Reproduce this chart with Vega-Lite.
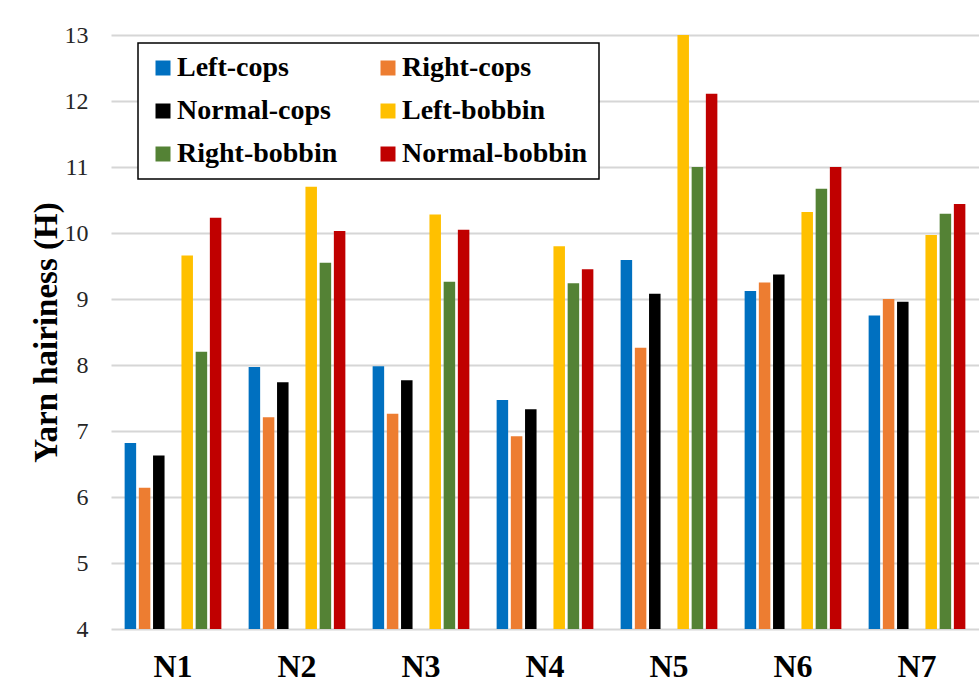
{
  "$schema": "https://vega.github.io/schema/vega-lite/v6.json",
  "autosize": {"type": "none"},
  "padding": {"left": 111, "top": 35, "right": 0, "bottom": 69},
  "width": 868,
  "height": 594,
  "background": "white",
  "data": {
    "values": [
      {"group": "N1", "series": "Left-cops", "value": 6.82},
      {"group": "N1", "series": "Right-cops", "value": 6.14},
      {"group": "N1", "series": "Normal-cops", "value": 6.63},
      {"group": "N1", "series": "Left-bobbin", "value": 9.66},
      {"group": "N1", "series": "Right-bobbin", "value": 8.2},
      {"group": "N1", "series": "Normal-bobbin", "value": 10.23},
      {"group": "N2", "series": "Left-cops", "value": 7.97},
      {"group": "N2", "series": "Right-cops", "value": 7.21},
      {"group": "N2", "series": "Normal-cops", "value": 7.74},
      {"group": "N2", "series": "Left-bobbin", "value": 10.7},
      {"group": "N2", "series": "Right-bobbin", "value": 9.55},
      {"group": "N2", "series": "Normal-bobbin", "value": 10.03},
      {"group": "N3", "series": "Left-cops", "value": 7.98},
      {"group": "N3", "series": "Right-cops", "value": 7.26},
      {"group": "N3", "series": "Normal-cops", "value": 7.77},
      {"group": "N3", "series": "Left-bobbin", "value": 10.28},
      {"group": "N3", "series": "Right-bobbin", "value": 9.26},
      {"group": "N3", "series": "Normal-bobbin", "value": 10.05},
      {"group": "N4", "series": "Left-cops", "value": 7.47},
      {"group": "N4", "series": "Right-cops", "value": 6.92},
      {"group": "N4", "series": "Normal-cops", "value": 7.33},
      {"group": "N4", "series": "Left-bobbin", "value": 9.8},
      {"group": "N4", "series": "Right-bobbin", "value": 9.24},
      {"group": "N4", "series": "Normal-bobbin", "value": 9.45},
      {"group": "N5", "series": "Left-cops", "value": 9.59},
      {"group": "N5", "series": "Right-cops", "value": 8.26},
      {"group": "N5", "series": "Normal-cops", "value": 9.08},
      {"group": "N5", "series": "Left-bobbin", "value": 13.0},
      {"group": "N5", "series": "Right-bobbin", "value": 11.0},
      {"group": "N5", "series": "Normal-bobbin", "value": 12.11},
      {"group": "N6", "series": "Left-cops", "value": 9.12},
      {"group": "N6", "series": "Right-cops", "value": 9.25},
      {"group": "N6", "series": "Normal-cops", "value": 9.37},
      {"group": "N6", "series": "Left-bobbin", "value": 10.32},
      {"group": "N6", "series": "Right-bobbin", "value": 10.67},
      {"group": "N6", "series": "Normal-bobbin", "value": 11.0},
      {"group": "N7", "series": "Left-cops", "value": 8.75},
      {"group": "N7", "series": "Right-cops", "value": 9.0},
      {"group": "N7", "series": "Normal-cops", "value": 8.96},
      {"group": "N7", "series": "Left-bobbin", "value": 9.97},
      {"group": "N7", "series": "Right-bobbin", "value": 10.29},
      {"group": "N7", "series": "Normal-bobbin", "value": 10.44}
    ]
  },
  "mark": {"type": "bar", "clip": true},
  "encoding": {
    "x": {
      "field": "group",
      "type": "nominal",
      "scale": {"paddingInner": 0, "paddingOuter": 0},
      "axis": {
        "title": null,
        "domain": false,
        "ticks": false,
        "tickSize": 0,
        "labelAngle": 0,
        "labelPadding": 22,
        "labelFont": "Liberation Serif",
        "labelFontWeight": "bold",
        "labelFontSize": 32,
        "labelColor": "black"
      }
    },
    "xOffset": {
      "field": "series",
      "type": "nominal",
      "scale": {
        "domain": ["Left-cops", "Right-cops", "Normal-cops", "gap", "Left-bobbin", "Right-bobbin", "Normal-bobbin"],
        "paddingInner": 0.19,
        "paddingOuter": 0.96
      }
    },
    "y": {
      "field": "value",
      "type": "quantitative",
      "scale": {"domain": [4, 13], "zero": false, "nice": false},
      "axis": {
        "title": "Yarn hairiness (H)",
        "titleFont": "Liberation Serif",
        "titleFontWeight": "bold",
        "titleFontSize": 33,
        "titleColor": "black",
        "titlePadding": 1,
        "values": [4, 5, 6, 7, 8, 9, 10, 11, 12, 13],
        "domain": false,
        "ticks": false,
        "tickSize": 0,
        "labelPadding": 23,
        "labelFont": "Liberation Serif",
        "labelFontSize": 24,
        "labelColor": "#262626",
        "grid": true,
        "gridColor": "#d6d6d6",
        "gridWidth": 2
      }
    },
    "color": {
      "field": "series",
      "type": "nominal",
      "scale": {
        "domain": ["Left-cops", "Right-cops", "Normal-cops", "Left-bobbin", "Right-bobbin", "Normal-bobbin"],
        "range": ["#0070C0", "#ED7D31", "#000000", "#FFC000", "#548235", "#C00000"]
      },
      "legend": {
        "title": null,
        "orient": "none",
        "legendX": 27,
        "legendY": 8,
        "direction": "horizontal",
        "columns": 2,
        "columnPadding": 36,
        "rowPadding": 15,
        "padding": 11,
        "strokeColor": "black",
        "fillColor": "white",
        "symbolType": "square",
        "symbolSize": 225,
        "symbolStrokeWidth": 0,
        "labelOffset": 0,
        "labelFont": "Liberation Serif",
        "labelFontWeight": "bold",
        "labelFontSize": 28,
        "labelColor": "black",
        "labelLimit": 300
      }
    }
  },
  "config": {"view": {"stroke": null}, "legend": {"strokeWidth": 1.5}}
}
